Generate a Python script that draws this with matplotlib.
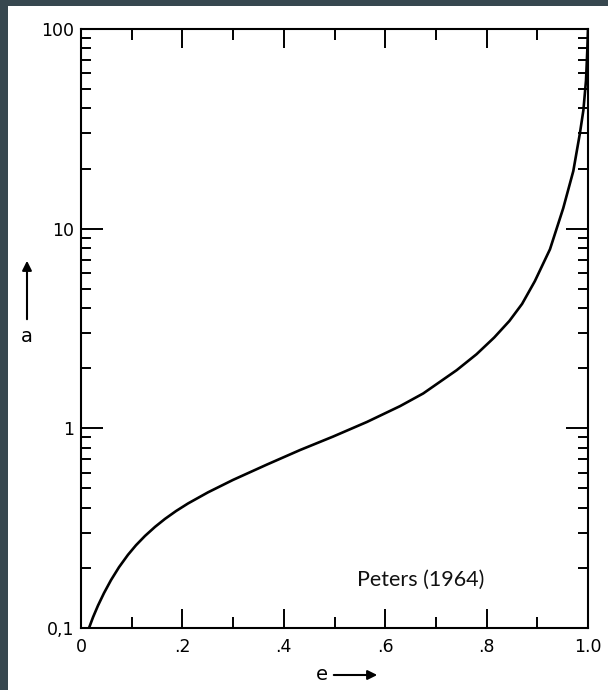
import matplotlib
matplotlib.use("Agg")
import matplotlib.pyplot as plt
import numpy as np
from matplotlib.patches import Rectangle, FancyArrowPatch

# values (e, a)
e = [0.0158, 0.0237, 0.0335, 0.0454, 0.0592, 0.0750, 0.0927, 0.1085, 0.1262,
     0.1460, 0.1657, 0.1874, 0.2111, 0.2505, 0.2998, 0.3669, 0.4320, 0.4970,
     0.5641, 0.6292, 0.6750, 0.7410, 0.7801, 0.8150, 0.8450, 0.8700, 0.8951,
     0.9250, 0.9511, 0.9710, 0.9840, 0.9909, 0.9961, 0.9986, 1.0]
a = [0.1, 0.1132, 0.1295, 0.1497, 0.1738, 0.2017, 0.2327, 0.2598, 0.2891,
     0.3210, 0.3520, 0.3852, 0.4205, 0.4780, 0.5516, 0.6588, 0.7785, 0.9089,
     1.0766, 1.2915, 1.4953, 1.9558, 2.350, 2.850, 3.451, 4.200, 5.455,
     7.885, 12.65, 19.43, 30.0, 39.2, 55.4, 78.0, 100.0]

xticks = [0, 0.2, 0.4, 0.6, 0.8, 1.0]
xticklabels = ["0", ".2", ".4", ".6", ".8", "1.0"]
yticks = [0.1, 1, 10, 100]
yticklabels = ["0,1", "1", "10", "100"]

W, H = 608, 690
fig = plt.figure(figsize=(W / 100, H / 100), dpi=100, facecolor="#37474F")
fig.patches.append(Rectangle((8 / W, 0), 1, 1 - 6 / H, transform=fig.transFigure,
                             facecolor="white", edgecolor="none", zorder=-5))

ax = fig.add_axes([81 / W, 1 - 628 / H, (588 - 81) / W, (628 - 29) / H])
ax.set_facecolor("white")
ax.plot(e, a, color="black", lw=1.9, solid_joinstyle="round")

ax.set_yscale("log")
ax.set_xlim(0, 1.0)
ax.set_ylim(0.1, 100)
ax.set_xticks(xticks, labels=xticklabels)
ax.set_xticks(np.arange(0.1, 1.0, 0.2), minor=True)
ax.set_yticks(yticks, labels=yticklabels)
ax.yaxis.set_minor_locator(matplotlib.ticker.LogLocator(subs=np.arange(2, 10)))
ax.yaxis.set_minor_formatter(matplotlib.ticker.NullFormatter())

for s in ax.spines.values():
    s.set_linewidth(1.5)
ax.tick_params(which="both", direction="in", top=True, right=True, width=1.4,
               labelsize=12.5, colors="black")
ax.tick_params(axis="x", which="major", length=14, pad=7)
ax.tick_params(axis="x", which="minor", length=8)
ax.tick_params(axis="y", which="major", length=16, pad=5)
ax.tick_params(axis="y", which="minor", length=7)

# axis labels with arrows
fig.text(27 / W, 1 - 336 / H, "a", fontsize=14, ha="center", va="center")
fig.add_artist(FancyArrowPatch((27 / W, 1 - 322 / H), (27 / W, 1 - 258 / H),
                               transform=fig.transFigure, arrowstyle="-|>",
                               color="black", lw=1.5, mutation_scale=14))
fig.text(322 / W, 1 - 674 / H, "e", fontsize=14, ha="center", va="center")
fig.add_artist(FancyArrowPatch((331 / W, 1 - 675 / H), (380 / W, 1 - 675 / H),
                               transform=fig.transFigure, arrowstyle="-|>",
                               color="black", lw=1.5, mutation_scale=14))

fig.text(357 / W, 1 - 580 / H, "Peters (1964)", fontsize=15.5, family=["Lato", "DejaVu Sans"],
         ha="left", va="center", color="#111111")

fig.savefig("out.png", dpi=100, facecolor=fig.get_facecolor())
